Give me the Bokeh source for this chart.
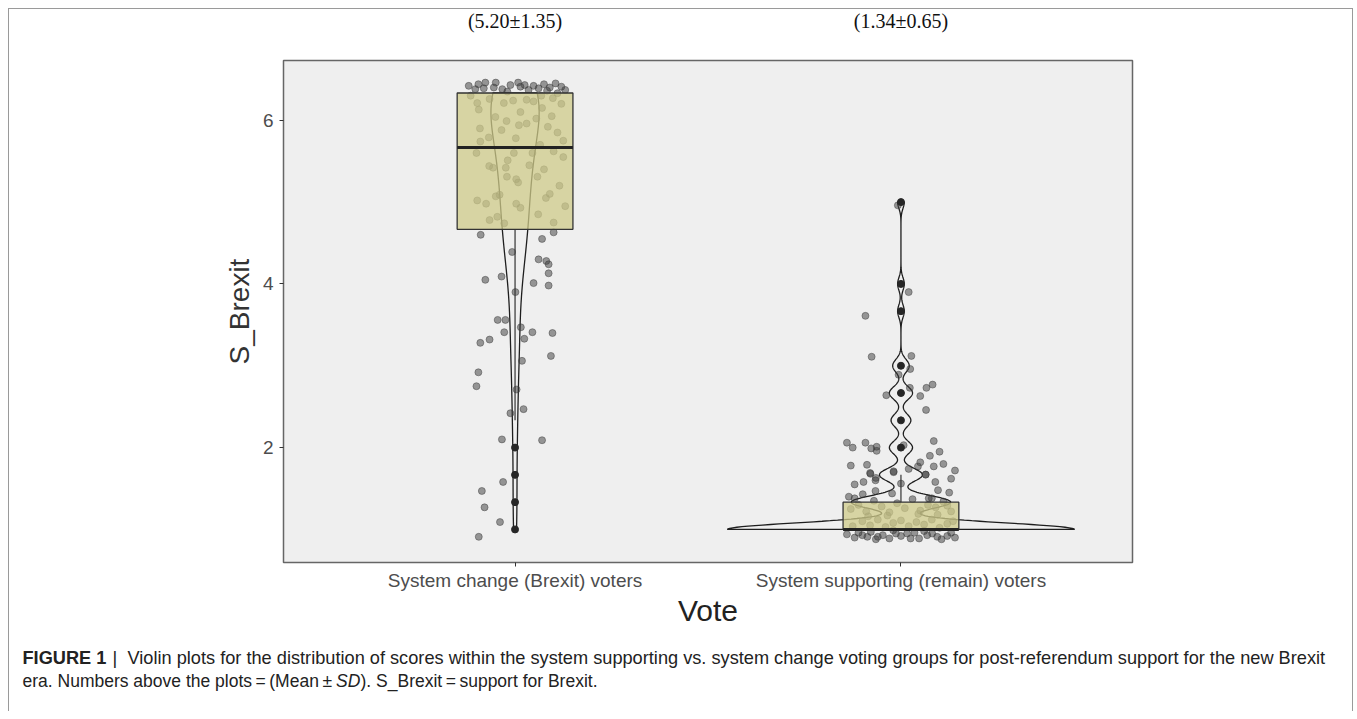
import numpy as np
from bokeh.plotting import figure
from bokeh.layouts import column
from bokeh.models import Range1d, FixedTicker, ColumnDataSource
from bokeh.core.properties import value
from bokeh.embed import file_html
from bokeh.resources import INLINE

# ---------------- data ----------------
categories = ["System change (Brexit) voters", "System supporting (remain) voters"]
annotations = ["(5.20\u00b11.35)", "(1.34\u00b10.65)"]
y_ticks = [2, 4, 6]

# score levels (mean of three 1-7 items) and estimated counts per group
levels = [1.0, 1.333, 1.667, 2.0, 2.333, 2.667, 3.0, 3.333, 3.667, 4.0,
          4.333, 4.667, 5.0, 5.333, 5.667, 6.0, 6.333]
counts_change = [2, 2, 1, 2, 2, 3, 2, 6, 2, 6, 8, 12, 12, 12, 18, 15, 40]
counts_support = [105, 30, 13, 7, 6, 7, 5, 0, 2, 2, 0, 0, 2, 0, 0, 0, 0]

# jittered points (offset from category, score)
change_dx = [-0.103, -0.077, -0.05, -0.033, -0.012, 0.008, 0.025, 0.048, -0.081, -0.055, 0.014, 0.061,
             0.075, 0.09, 0.105, 0.12, 0.13, 0.083, 0.11, -0.12, -0.095, 0.035, -0.02, 0.068, 0.098, -0.115,
             -0.098, -0.094, -0.066, -0.029, -0.005, 0.014, -0.051, -0.022, 0.03, 0.048, -0.091, -0.035,
             -0.068, -0.09, -0.1, 0.01, 0.03, 0.002, -0.003, -0.019, -0.067, -0.057, -0.024, -0.021, 0.003,
             0.008, 0.037, 0.058, -0.098, -0.075, -0.05, -0.04, 0.003, 0.014, -0.046, -0.066, -0.028,
             0.07, 0.095, 0.12, 0.085, 0.11, 0.065, 0.1, 0.125, 0.075, 0.115, 0.09, 0.13, 0.06, 0.1, 0.045,
             0.055, 0.125, 0.08,
             -0.089, 0.1, 0.07,
             -0.0075, 0.061, 0.081, 0.087, 0.087, -0.077, -0.035, 0.048, 0.087, 0.001, -0.045, -0.025,
             0.015, -0.028, 0.045, 0.097, -0.09, -0.066, 0.024, 0.093, 0.018, -0.095, -0.1, 0.004,
             -0.012, 0.022, -0.034, 0.07, -0.031, -0.086, -0.079, -0.039, -0.094]
change_y = [6.38, 6.46, 6.46, 6.38, 6.43, 6.46, 6.43, 6.42, 6.39, 6.40, 6.41, 6.39,
            6.44, 6.40, 6.45, 6.41, 6.37, 6.36, 6.33, 6.42, 6.44, 6.37, 6.35, 6.30, 6.27, 6.30,
            6.21, 6.13, 6.26, 6.21, 6.24, 6.10, 6.04, 5.99, 6.25, 6.23, 5.90, 5.88,
            5.79, 5.74, 5.60, 5.94, 5.96, 5.78, 5.60, 5.51, 5.44, 5.42, 5.42, 5.31, 5.28,
            5.24, 5.45, 5.31, 5.02, 4.98, 5.07, 5.09, 4.98, 4.93, 4.82, 4.78, 4.74,
            6.15, 6.05, 6.20, 5.92, 5.85, 5.70, 5.62, 5.55, 5.40, 5.20, 5.10, 4.95, 4.85, 4.75, 5.60,
            6.02, 5.75, 5.05,
            4.60, 4.63, 4.55,
            4.39, 4.30, 4.28, 4.24, 4.13, 4.05, 4.09, 4.01, 3.98, 3.90, 3.56, 3.56,
            3.47, 3.41, 3.41, 3.40, 3.28, 3.32, 3.33, 3.12, 3.06, 2.92, 2.75, 2.71,
            2.42, 2.47, 2.10, 2.09, 1.58, 1.47, 1.27, 1.09, 0.91]

support_dx = [0.02, -0.092, -0.076, 0.027, 0.024, -0.006, 0.066, 0.082, 0.023, -0.038, 0.05, 0.065,
              -0.092, -0.077, -0.063, -0.063, 0.007, -0.088, -0.08, -0.019, 0.02, 0.044, 0.085, 0.064, -0.065,
              -0.008, 0.085, 0.1, 0.11, 0.05, 0.075, -0.14, -0.125,
              -0.13, -0.12, -0.135, 0.13, 0.125, 0.14,
              -0.079, -0.066, -0.097, -0.099, -0.066, -0.019, 0.0, -0.023, 0.064, 0.089, 0.096, 0.072, 0.08,
              -0.13, -0.11, -0.09, -0.07, -0.05, -0.03, -0.01, 0.01, 0.03, 0.05, 0.07, 0.09, 0.11, 0.13,
              -0.12, 0.12, -0.1, -0.08, -0.06, -0.04, -0.02, 0.0, 0.02, 0.04, 0.06, 0.08, 0.1, 0.12,
              -0.125, 0.135, -0.035, 0.045, -0.085, 0.095,
              -0.1, -0.078, -0.06, -0.047, -0.03, -0.013, 0.025, 0.047, 0.016, 0.068, 0.081, 0.094,
              -0.087, -0.12, 0.12, 0.105, -0.065, 0.0, 0.035, -0.02, 0.06, -0.11, 0.13, -0.14, 0.14]
support_y = [3.90, 3.61, 3.11, 3.12, 2.96, 2.89, 2.73, 2.77, 2.73, 2.64, 2.63, 2.46,
             2.06, 1.99, 2.01, 1.96, 2.03, 1.79, 1.69, 1.71, 1.74, 1.77, 1.77, 1.67, 1.63,
             4.96, 2.08, 1.95, 1.80, 1.82, 1.90, 2.06, 2.00,
             1.78, 1.55, 1.40, 1.62, 1.45, 1.72,
             1.68, 1.60, 1.58, 1.43, 1.47, 1.70, 1.56, 1.44, 1.67, 1.58, 1.48, 1.38, 1.38,
             1.25, 1.30, 1.22, 1.35, 1.28, 1.21, 1.32, 1.26, 1.37, 1.23, 1.30, 1.27, 1.34, 1.22,
             1.38, 1.29, 1.10, 1.05, 1.12, 1.03, 1.08, 1.11, 1.04, 1.09, 1.06, 1.12, 1.02, 1.07,
             1.04, 1.10, 1.17, 1.19, 1.16, 1.18,
             0.93, 0.97, 0.91, 0.93, 0.89, 0.95, 0.89, 0.89, 0.95, 0.93, 0.95, 0.91,
             0.91, 0.90, 0.92, 0.88, 0.88, 0.92, 0.96, 0.99, 0.98, 0.96, 0.96, 0.94, 0.90]

caption_tag = "FIGURE 1"
caption_bar = "|"
caption_line1 = ("Violin plots for the distribution of scores within the system supporting vs. "
                 "system change voting groups for post-referendum support for the new Brexit")
caption_line2a = "era. Numbers above the plots\u2009=\u2009(Mean\u2009\u00b1\u2009"
caption_line2b = "SD"
caption_line2c = "). S_Brexit\u2009=\u2009support for Brexit."

# ---------------- layout (page pixels) ----------------
LEFT, TOP = 8, 8
W = 1345
TOP_H = 40          # strip with mean +- SD texts   (y 8 .. 48)
MAIN_H = 592        # plot                          (y 48 .. 640)
CAP_H = 71          # caption                       (y 640 .. 711)
FL, FR, FT, FB = 283, 1132, 60, 562          # panel in page pixels
X0, X1, Y0, Y1 = 0.4, 2.6, 0.596, 6.73

SANS = "Liberation Sans"
SERIF = "Liberation Serif"


def x2px(x):
    return FL + (x - X0) / (X1 - X0) * (FR - FL)


def strip(height, y_top):
    f = figure(width=W, height=height, output_backend="svg", toolbar_location=None,
               x_range=Range1d(LEFT, LEFT + W), y_range=Range1d(y_top + height, y_top),
               min_border=0, min_border_left=0, min_border_right=0,
               min_border_top=0, min_border_bottom=0, frame_align=False)
    f.axis.visible = False
    f.grid.visible = False
    f.outline_line_color = None
    f.background_fill_color = None
    f.border_fill_color = None
    return f


# ---------------- main plot ----------------
main_top = TOP + TOP_H
p = figure(width=W, height=MAIN_H, output_backend="svg", toolbar_location=None,
           x_range=Range1d(X0, X1), y_range=Range1d(Y0, Y1), frame_align=False,
           min_border_left=FL - LEFT, min_border_right=LEFT + W - FR,
           min_border_top=FT - main_top, min_border_bottom=main_top + MAIN_H - FB)
p.border_fill_color = None
p.background_fill_color = "#EFEFEF"
p.outline_line_color = "#666666"
p.outline_line_width = 1.5
p.grid.visible = False

for ax in (p.xaxis, p.yaxis):
    ax.axis_line_color = None
    ax.major_tick_line_color = "#333333"
    ax.major_tick_out = 4
    ax.major_tick_in = 0
    ax.minor_tick_line_color = None
    ax.major_label_text_font = SANS
    ax.major_label_text_font_size = "19px"
    ax.major_label_text_color = "#4D4D4D"
    ax.major_label_standoff = 6

p.xaxis.ticker = FixedTicker(ticks=[1, 2])
p.xaxis.major_label_overrides = {1: categories[0], 2: categories[1]}
p.xaxis.major_label_standoff = 3
p.xaxis.axis_label = "Vote"
p.xaxis.axis_label_text_font = SANS
p.xaxis.axis_label_text_font_size = "30px"
p.xaxis.axis_label_text_font_style = "normal"
p.xaxis.axis_label_text_color = "#222222"
p.xaxis.axis_label_standoff = 0

p.yaxis.ticker = FixedTicker(ticks=y_ticks)
p.yaxis.axis_label = "S_Brexit"
p.yaxis.axis_label_text_font = SANS
p.yaxis.axis_label_text_font_size = "28px"
p.yaxis.axis_label_text_font_style = "normal"
p.yaxis.axis_label_text_color = "#333333"
p.yaxis.axis_label_standoff = 5

groups = [(1, counts_change, change_dx, change_y), (2, counts_support, support_dx, support_y)]

# violins (ggplot: nrd0 bandwidth, trimmed, scale = "area", width 0.9)
profiles = []
for c, counts, _, _ in groups:
    data = np.repeat(levels, counts)
    n = len(data)
    sd = data.std(ddof=1)
    q75, q25 = np.percentile(data, [75, 25])
    bw = 0.9 * min(sd, (q75 - q25) / 1.34) * n ** -0.2
    grid = np.linspace(data.min(), data.max(), 600)
    dens = np.exp(-0.5 * ((grid[:, None] - data[None, :]) / bw) ** 2).sum(1) / (n * bw * np.sqrt(2 * np.pi))
    profiles.append((c, grid, dens))
dmax = max(d.max() for _, _, d in profiles)
for c, grid, dens in profiles:
    hw = 0.45 * dens / dmax
    xs = np.concatenate([c - hw, (c + hw)[::-1]])
    ys = np.concatenate([grid, grid[::-1]])
    p.patch(xs, ys, fill_alpha=0, line_color="#1E1E1E", line_width=1.3)

# jittered points
for c, _, dxs, ys in groups:
    p.scatter(np.array(dxs) + c, ys, size=7, fill_color="#3A3A3A", fill_alpha=0.5,
              line_color="#3A3A3A", line_alpha=0.45)

# boxplots
box = dict(left=[], right=[], bottom=[], top=[])
med = dict(x0=[], x1=[], y=[])
wsk = dict(x=[], y0=[], y1=[])
out_x, out_y = [], []
for c, counts, _, _ in groups:
    data = np.repeat(levels, counts)
    q1, m, q3 = np.percentile(data, [25, 50, 75])
    iqr = q3 - q1
    lo_f, hi_f = q1 - 1.5 * iqr, q3 + 1.5 * iqr
    wlo = data[data >= lo_f].min()
    whi = data[data <= hi_f].max()
    box["left"].append(c - 0.15); box["right"].append(c + 0.15)
    box["bottom"].append(q1); box["top"].append(q3)
    med["x0"].append(c - 0.15); med["x1"].append(c + 0.15); med["y"].append(m)
    wsk["x"] += [c, c]; wsk["y0"] += [q1, q3]; wsk["y1"] += [wlo, whi]
    outs = np.unique(data[(data < lo_f) | (data > hi_f)])
    out_x += [c] * len(outs); out_y += list(outs)

p.segment(x0="x", y0="y0", x1="x", y1="y1", source=ColumnDataSource(wsk), line_color="#333333", line_width=1.2)
p.quad(source=ColumnDataSource(box), fill_color="#CFCB8A", fill_alpha=0.75, line_color="#333333", line_width=1.3)
p.segment(x0="x0", y0="y", x1="x1", y1="y", source=ColumnDataSource(med), line_color="#222222", line_width=3)
p.scatter(out_x, out_y, size=7, fill_color="#262626", line_color="#262626")

# ---------------- mean +- SD strip ----------------
top = strip(TOP_H, TOP)
top.text(x=[x2px(1), x2px(2)], y=[20, 20], text=annotations, text_font=value(SERIF),
         text_font_size="20px", text_color="#111111", text_align="center", text_baseline="middle")

# ---------------- caption strip ----------------
cap = strip(CAP_H, main_top + MAIN_H)
CS1 = "18.2px"
CS2 = "17.5px"
cap.text(x=[22], y=[657], text=[caption_tag], text_font=value(SANS), text_font_size=CS1,
         text_font_style="bold", text_color="#222222", text_baseline="middle")
cap.text(x=[112, 127], y=[657, 657], text=[caption_bar, caption_line1], text_font=value(SANS),
         text_font_size=CS1, text_color="#222222", text_baseline="middle")
cap.text(x=[22, 360], y=[680, 680], text=[caption_line2a, caption_line2c], text_font=value(SANS),
         text_font_size=CS2, text_color="#222222", text_baseline="middle")
cap.text(x=[335.5], y=[680], text=[caption_line2b], text_font=value(SANS), text_font_size=CS2,
         text_font_style="italic", text_color="#222222", text_baseline="middle")

page = column(top, p, cap, spacing=0)
page.styles = {"margin": "8px 0 0 8px",
               "box-shadow": "inset 1px 1px 0 0 #9a9a9a, inset -1px 0 0 0 #9a9a9a"}

open("out.html", "w").write(file_html(page, INLINE))
